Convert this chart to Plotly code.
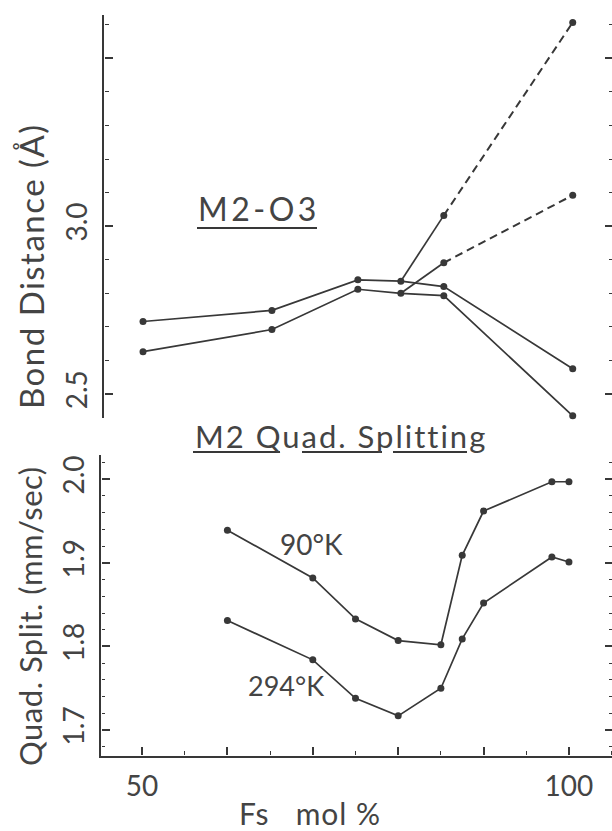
import plotly.graph_objects as go

# ---- Data ----
# Top panel: M2-O3 bond distances (Å) vs Fs mol %
fs_top = [50, 65, 75, 80, 85, 100]
bond_upper = [2.716, 2.749, 2.840, 2.836, 2.820, 2.575]
bond_lower = [2.626, 2.692, 2.812, 2.800, 2.793, 2.435]
branch_fs = [80, 85]
branch_a = [2.836, 3.032]
branch_b = [2.800, 2.891]
dash_fs = [85, 100]
dash_a = [3.032, 3.607]
dash_b = [2.891, 3.092]

# Bottom panel: M2 quadrupole splitting (mm/sec) vs Fs mol %
fs_bot = [60, 70, 75, 80, 85, 87.5, 90, 98, 100]
qs_90k = [1.939, 1.882, 1.833, 1.807, 1.802, 1.909, 1.962, 1.997, 1.997]
qs_294k = [1.831, 1.784, 1.738, 1.717, 1.750, 1.809, 1.852, 1.907, 1.901]

top_ticks = [2.5, 3.0, 3.5]
top_ticktext = ["2.5", "3.0", ""]
bot_ticks = [1.7, 1.8, 1.9, 2.0]
bot_ticktext = ["1.7", "1.8", "1.9", "2.0"]
x_ticks = [50, 60, 70, 80, 90, 100]
x_ticktext = ["50", "", "", "", "", "100"]

# ---- Style ----
W, H = 612, 831
INK = "#383838"
TXT = "#444444"
FONT = "Lato"


def px(x):
    return x / W


def py(y):
    return 1 - y / H


line = dict(color=INK, width=1.7)
mark = dict(color=INK, size=7)

fig = go.Figure()

# top panel
for ys in (bond_upper, bond_lower):
    fig.add_trace(go.Scatter(x=fs_top, y=ys, xaxis="x2", yaxis="y2", mode="lines+markers",
                             line=line, marker=mark, cliponaxis=False, showlegend=False))
for ys in (branch_a, branch_b):
    fig.add_trace(go.Scatter(x=branch_fs, y=ys, xaxis="x2", yaxis="y2", mode="lines",
                             line=line, cliponaxis=False, showlegend=False))
for ys in (dash_a, dash_b):
    fig.add_trace(go.Scatter(x=dash_fs, y=ys, xaxis="x2", yaxis="y2", mode="lines+markers",
                             line=dict(color=INK, width=2, dash="8px,5px"), marker=mark,
                             cliponaxis=False, showlegend=False))

# bottom panel
for ys in (qs_90k, qs_294k):
    fig.add_trace(go.Scatter(x=fs_bot, y=ys, xaxis="x", yaxis="y", mode="lines+markers",
                             line=line, marker=mark, cliponaxis=False, showlegend=False))

# invisible carriers for the tick-only subplots
for xa, ya, xs, ys in [("x3", "y3", fs_bot, qs_90k), ("x4", "y4", fs_top, bond_upper),
                       ("x5", "y5", fs_bot, qs_90k), ("x6", "y6", fs_top, bond_upper),
                       ("x7", "y7", fs_bot, qs_90k)]:
    fig.add_trace(go.Scatter(x=xs, y=ys, xaxis=xa, yaxis=ya, mode="markers",
                             marker=dict(opacity=0, size=1), showlegend=False, hoverinfo="skip"))

tickfont = dict(family=FONT, size=28, color=TXT)

bot_range = [1.669, 2.029]
top_range = [2.43, 3.629]
bot_dom = [py(756), py(455)]
top_dom = [py(417.5), py(15)]
bot_xdom = [px(100.7), 1]
top_xdom = [px(104), 1]
bot_xrange = [45.16, 105.04]
top_xrange = [45.46, 104.57]


def minor(kind, dtick, tick0, length=3.5):
    return dict(ticks=kind, ticklen=length, tickwidth=1.2, tickcolor=INK,
                tickmode="linear", dtick=dtick, tick0=tick0)


hidden = dict(showline=False, showgrid=False, zeroline=False, showticklabels=False,
              ticks="", automargin=False)


def tick_only(kind, length=8):
    return dict(showline=False, showgrid=False, zeroline=False, ticks=kind,
                ticklen=length, tickwidth=1.5, tickcolor=INK, showticklabels=False,
                automargin=False)


label_y = dict(showgrid=False, zeroline=False, ticks="", tickangle=-90, tickfont=tickfont,
               automargin=False, showline=True, linewidth=2, linecolor=INK)

fig.update_layout(
    width=W, height=H, margin=dict(l=0, r=0, t=0, b=0, autoexpand=False),
    paper_bgcolor="white", plot_bgcolor="rgba(0,0,0,0)",
    font=dict(family=FONT, color=TXT),
    # axes carrying the lines and the labels
    xaxis=dict(domain=bot_xdom, range=bot_xrange, anchor="y", automargin=False,
               showline=True, linewidth=2, linecolor=INK, showgrid=False, zeroline=False,
               ticks="", tickvals=x_ticks, ticktext=x_ticktext, tickfont=tickfont,
               ticklabelstandoff=4),
    yaxis=dict(domain=bot_dom, range=bot_range, anchor="x", tickvals=bot_ticks,
               ticktext=bot_ticktext, ticklabelstandoff=4, **label_y),
    xaxis2=dict(domain=top_xdom, range=top_xrange, anchor="y2", **hidden),
    yaxis2=dict(domain=top_dom, range=top_range, anchor="x2", tickvals=top_ticks,
                ticktext=top_ticktext, ticklabelstandoff=4, **label_y),
    # right-edge ticks (bottom panel, top panel)
    xaxis3=dict(domain=bot_xdom, range=bot_xrange, anchor="y3", **hidden),
    yaxis3=dict(domain=bot_dom, range=bot_range, anchor="x3", side="right", tickvals=bot_ticks,
                minor=minor("inside", 0.02, 1.7), **tick_only("inside", 7)),
    xaxis4=dict(domain=top_xdom, range=top_xrange, anchor="y4", **hidden),
    yaxis4=dict(domain=top_dom, range=top_range, anchor="x4", side="right", tickvals=top_ticks,
                minor=minor("inside", 0.1, 2.5), **tick_only("inside", 7)),
    # left-axis ticks: right side of a strip ending at the left axis, pointing into the plot
    xaxis5=dict(domain=[0, px(100.7)], range=bot_xrange, anchor="y5", **hidden),
    yaxis5=dict(domain=bot_dom, range=bot_range, anchor="x5", side="right", tickvals=bot_ticks,
                minor=minor("outside", 0.02, 1.7), **tick_only("outside")),
    xaxis6=dict(domain=[0, px(104)], range=top_xrange, anchor="y6", **hidden),
    yaxis6=dict(domain=top_dom, range=top_range, anchor="x6", side="right", tickvals=top_ticks,
                minor=minor("outside", 0.1, 2.5), **tick_only("outside")),
    # bottom-axis ticks: top side of a strip ending at the x axis, pointing up into the plot
    xaxis7=dict(domain=bot_xdom, range=bot_xrange, anchor="y7", side="top", tickvals=x_ticks,
                minor=minor("outside", 5, 50, 4), **tick_only("outside")),
    yaxis7=dict(domain=[0, py(756)], range=bot_range, anchor="x7", **hidden),
)


def note(text, x, y, size, angle=0, spacing=0):
    if spacing:
        text = f'<span style="letter-spacing:{spacing}px">{text}</span>'
    fig.add_annotation(text=text, x=px(x), y=py(y), xref="paper", yref="paper",
                       showarrow=False, textangle=angle, xanchor="center", yanchor="middle",
                       font=dict(family=FONT, size=size, color=TXT))


note("Bond Distance (Å)", 31, 266, 33, -90, 1.5)
note("Quad. Split. (mm/sec)", 30, 616, 31, -90, 0.5)
note("Fs&nbsp;&nbsp;&nbsp;mol %", 310, 813, 30, 0, 1)
note("M2-O3", 259, 208, 32, 0, 3.5)
note("M2 Quad. Splitting", 341, 436, 31, 0, 2)
note("90°K", 311, 544, 28)
note("294°K", 286, 685, 27)

# underlines of the panel titles
for x0, x1, y in [(197, 317, 228), (193, 280, 452), (302, 382, 452), (393, 467, 452)]:
    fig.add_shape(type="line", xref="paper", yref="paper", x0=px(x0), x1=px(x1), y0=py(y), y1=py(y),
                  line=dict(color=INK, width=2))

fig.write_html("out.html", config={"displayModeBar": False},
               post_script="document.body.style.margin='0px';document.body.style.padding='0px';")
